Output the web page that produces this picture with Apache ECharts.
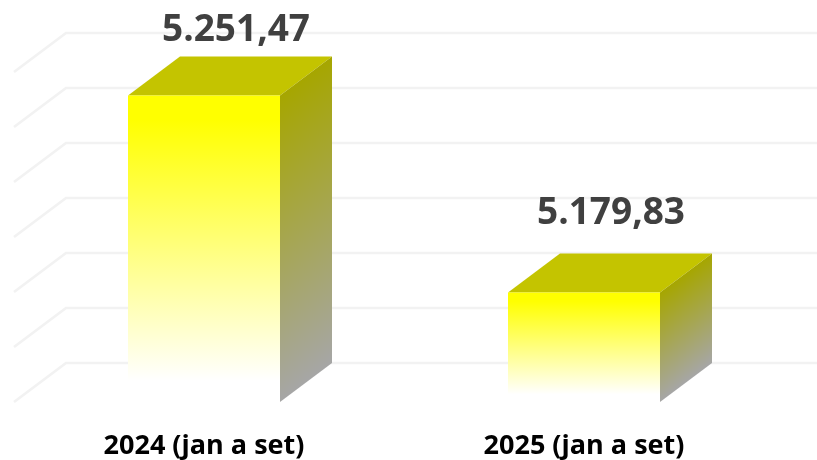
<!DOCTYPE html>
<html>
<head>
<meta charset="utf-8">
<style>
  html, body { margin: 0; padding: 0; background: #fff; }
  #chart { width: 817px; height: 460px; }
</style>
<script src="https://cdn.jsdelivr.net/npm/echarts@6/dist/echarts.min.js"></script>
</head>
<body>
<div id="chart"></div>
<script>
const categories = ['2024 (jan a set)', '2025 (jan a set)'];
const values = [5251.47, 5179.83];
const gridTicks = [5140, 5160, 5180, 5200, 5220, 5240, 5260];

// Depth of the fake 3D box, in pixels
const DEPTH_X = 52;
const DEPTH_Y = 39;
const BAR_WIDTH = 152;
const LABEL_LIFT = [26, 40];
const LABEL_SHIFT = [6, 1];
const FONT = '"Open Sans", Lato, sans-serif';

const formatValue = (value) =>
  value.toFixed(2).replace('.', ',').replace(/\B(?=(\d{3})+(?!\d))/, '.');

const renderWall = (params, api) => {
  const y = api.coord([0, api.value(0)])[1];
  const left = params.coordSys.x;
  const right = 817;
  return {
    type: 'polyline',
    shape: {
      points: [
        [left, y],
        [left + DEPTH_X, y - DEPTH_Y],
        [right, y - DEPTH_Y],
      ],
    },
    style: { fill: null, stroke: '#f2f2f2', lineWidth: 2.5 },
  };
};

const renderBox = (params, api) => {
  const top = api.coord([api.value(0), api.value(1)]);
  const baseY = api.coord([api.value(0), gridTicks[0]])[1];
  const x0 = top[0] - BAR_WIDTH / 2;
  const x1 = top[0] + BAR_WIDTH / 2;
  const y0 = top[1];
  const h = baseY - y0;
  return {
    type: 'group',
    children: [
      {
        type: 'polygon',
        shape: { points: [[x0, y0], [x0 + DEPTH_X, y0 - DEPTH_Y], [x1 + DEPTH_X, y0 - DEPTH_Y], [x1, y0]] },
        style: { fill: '#c4c400' },
      },
      {
        type: 'polygon',
        shape: { points: [[x1, y0], [x1 + DEPTH_X, y0 - DEPTH_Y], [x1 + DEPTH_X, baseY - DEPTH_Y], [x1, baseY]] },
        style: {
          // gradient runs square to the slanted top edge of the side face
          fill: new echarts.graphic.LinearGradient(x1, y0, x1 + 0.48 * h, y0 + 0.64 * h, [
            { offset: 0, color: '#a6a600' },
            { offset: 1, color: '#a6a6a6' },
          ], true),
        },
      },
      {
        type: 'rect',
        shape: { x: x0, y: y0, width: BAR_WIDTH, height: h },
        style: {
          fill: new echarts.graphic.LinearGradient(0, 0, 0, 1, [
            { offset: 0, color: '#ffff00' },
            { offset: 0.08, color: '#ffff00' },
            { offset: 0.93, color: '#ffffff' },
            { offset: 1, color: '#ffffff' },
          ]),
        },
      },
      {
        type: 'text',
        style: {
          x: top[0] + DEPTH_X / 2 + LABEL_SHIFT[params.dataIndex],
          y: y0 - DEPTH_Y - LABEL_LIFT[params.dataIndex],
          text: formatValue(api.value(1)),
          fill: '#404040',
          font: 'bold 37px ' + FONT,
          align: 'center',
          verticalAlign: 'middle',
        },
      },
    ],
  };
};

const chart = echarts.init(document.getElementById('chart'));
chart.setOption({
  animation: false,
  backgroundColor: '#ffffff',
  grid: { left: 14, width: 760, top: 72, bottom: 58 },
  xAxis: {
    type: 'category',
    data: categories,
    axisLine: { show: false },
    axisTick: { show: false },
    axisLabel: {
      margin: 31,
      color: '#000000',
      fontFamily: FONT,
      fontWeight: 'bold',
      fontSize: 27,
    },
  },
  yAxis: { type: 'value', min: 5140, max: 5260, interval: 20, show: false },
  series: [
    {
      type: 'custom',
      silent: true,
      clip: false,
      renderItem: renderWall,
      encode: { y: 0 },
      data: gridTicks.map((tick) => [tick]),
    },
    {
      type: 'custom',
      silent: true,
      clip: false,
      renderItem: renderBox,
      encode: { x: 0, y: 1 },
      data: values.map((value, index) => [index, value]),
    },
  ],
});
</script>
</body>
</html>
